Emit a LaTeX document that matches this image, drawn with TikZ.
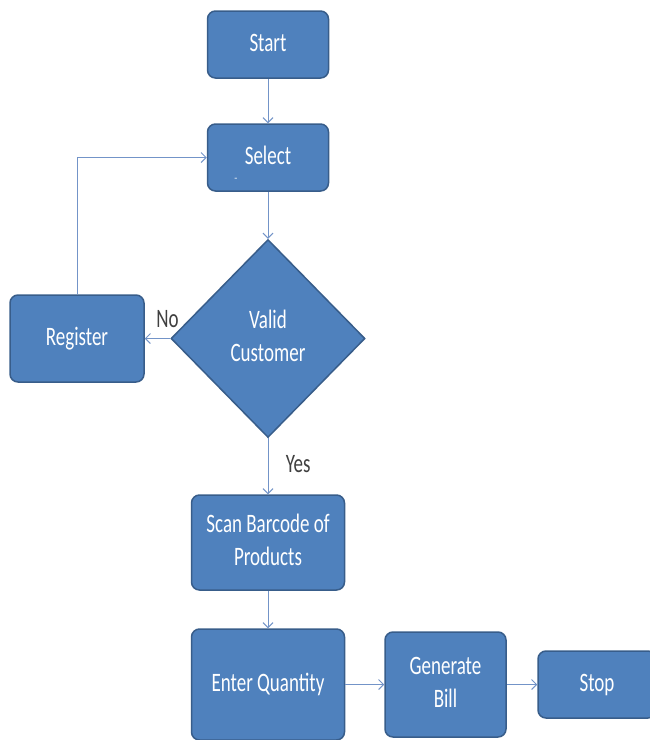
\documentclass[tikz,border=0pt]{standalone}
\usepackage{fontspec}
\setmainfont{Carlito}
\usepackage{graphicx}
\usetikzlibrary{shapes.geometric}
\usetikzlibrary{arrows.meta}
\definecolor{boxfill}{RGB}{79,129,189}
\definecolor{boxline}{RGB}{56,93,138}
\definecolor{linkcol}{RGB}{115,148,200}
\definecolor{labelcol}{RGB}{64,64,64}
\newcommand{\tall}[1]{\scalebox{1}[1.4]{\begin{tabular}{@{}c@{}}#1\end{tabular}}}

\begin{document}
\begin{tikzpicture}[x=1pt, y=-1pt,
  box/.style={rectangle, rounded corners=8pt, fill=boxfill, draw=boxline, line width=1.5pt, text=white, inner sep=0, font=\fontsize{19}{23.5}\selectfont},
  decision/.style={diamond, fill=boxfill, draw=boxline, line width=1.5pt, text=white, inner sep=0, font=\fontsize{19}{23.5}\selectfont},
  link/.style={draw=linkcol, line width=1pt, -{Straight Barb[length=5pt,width=10pt]}},
  lab/.style={text=labelcol, font=\fontsize{19}{23.5}\selectfont}]
\useasboundingbox (0,0) rectangle (649,740);
\node[box, minimum width=121, minimum height=67] (start) at (268,44.5) {\tall{Start}};
\node[box, minimum width=121, minimum height=67] (select) at (268,157.5) {\tall{Select}};
\node[text=white, font=\fontsize{10}{12}\selectfont] (selectmark) at (236,180) {-};
\node[decision, minimum width=194, minimum height=198] (valid) at (268,338.5) {\raisebox{-5pt}{\tall{Valid\\Customer}}};
\node[box, minimum width=134, minimum height=87] (register) at (77,338.5) {\tall{Register}};
\node[box, minimum width=153, minimum height=95] (scan) at (268,542.5) {\tall{Scan Barcode of\\Products}};
\node[box, minimum width=153, minimum height=111] (quantity) at (268,684.5) {\tall{Enter Quantity}};
\node[box, minimum width=121, minimum height=105] (bill) at (445.5,684.5) {\tall{Generate\\Bill}};
\node[box, minimum width=118, minimum height=67] (stop) at (597,684.5) {\tall{Stop}};
% connectors
\draw[link] (start) -- (select);
\draw[link] (select) -- (valid);
\draw[link] (valid) -- node[lab, anchor=west, xshift=14pt] {\tall{Yes}} (scan);
\draw[link] (valid) -- node[lab, anchor=south, xshift=10pt, yshift=-3pt] {\tall{No}} (register);
\draw[link] (register.north) |- (select.west);
\draw[link] (scan) -- (quantity);
\draw[link] (quantity) -- (bill);
\draw[link] (bill) -- (stop);
\end{tikzpicture}
\end{document}
